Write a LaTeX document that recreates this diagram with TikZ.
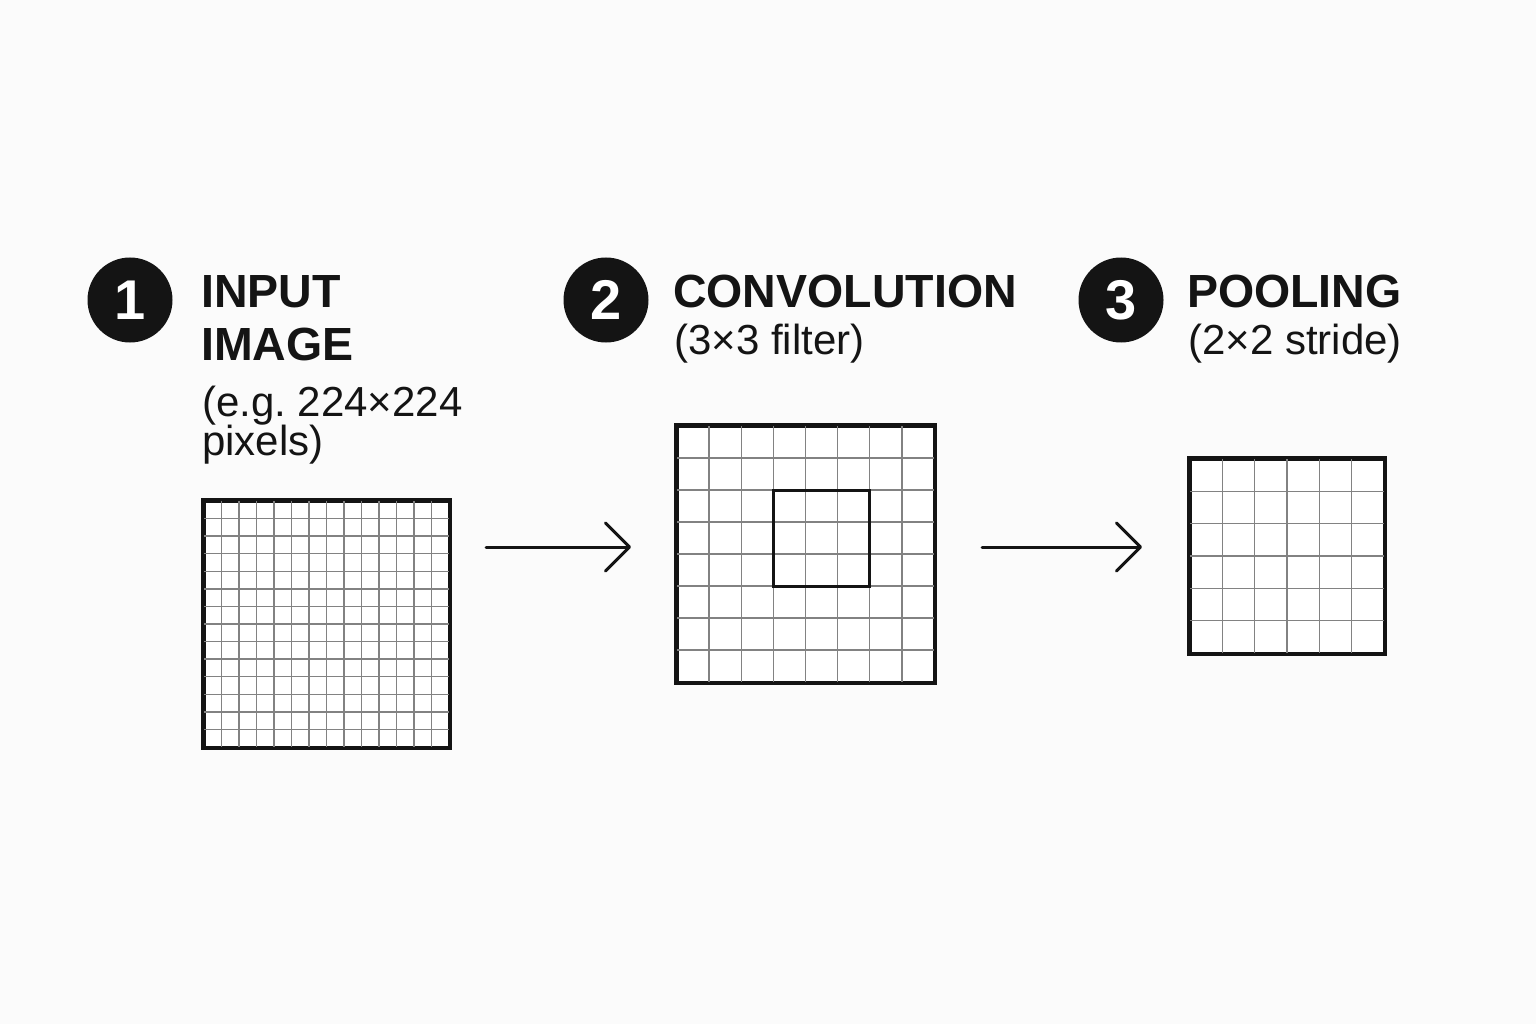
\documentclass[tikz,border=0pt]{standalone}
\usepackage{fontspec}
\setmainfont{Liberation Sans}
\usetikzlibrary{arrows.meta}
\definecolor{bgc}{RGB}{251,251,251}
\definecolor{gridc}{RGB}{130,130,130}
\definecolor{inkc}{RGB}{20,20,20}
\frenchspacing
\tikzset{
  badge/.style={circle, fill=inkc, minimum size=85pt, inner sep=0pt, text=white,
    font=\fontsize{56}{56}\selectfont\bfseries},
  ttl/.style={anchor=base west, inner sep=0pt, text=inkc, font=\fontsize{46.5}{50}\selectfont\bfseries},
  sub/.style={anchor=base west, inner sep=0pt, text=inkc, font=\fontsize{42}{44}\selectfont},
  box/.style={draw=inkc, line width=3pt, inner sep=0pt, fill=white},
  gl/.style={draw=gridc, line width=1.4pt},
  arr/.style={draw=inkc, line width=3pt, line cap=round, -{Straight Barb[length=24pt,width=48pt,line width=3pt,round]}},
}
\begin{document}
\begin{tikzpicture}[x=1pt,y=-1pt]
\fill[bgc] (0,0) rectangle (1536,1024);
\useasboundingbox (0,0) rectangle (1536,1024);

% badges
\node[badge] (b1) at (130,300) {1};
\node[badge] (b2) at (606,300) {2};
\node[badge] (b3) at (1121,300) {3};

% titles
\node[ttl] (t1a) at (201,307) {INPUT};
\node[ttl] (t1b) at (201,360) {IMAGE};
\node[sub] (t1c) at (202,416) {(e.g. 224×224};
\node[sub] (t1d) at (202,455) {pixels)};

\node[ttl] (t2a) at (673,307) {CONVOLUTION};
\node[sub] (t2b) at (674,354) {(3×3 filter)};

\node[ttl] (t3a) at (1187,307) {POOLING};
\node[sub] (t3b) at (1188,354) {(2×2 stride)};

% input grid 14x14
\node[box, minimum width=245pt, minimum height=246pt] (g1) at (326.5,624) {};
\foreach \i in {1,...,13}{
  \draw[gl] ({204+\i*245/14},501) -- ({204+\i*245/14},747);
  \draw[gl] (204,{501+\i*246/14}) -- (449,{501+\i*246/14});
}
\draw[draw=inkc, line width=3pt] (g1.north west) rectangle (g1.south east);

% convolution grid 8x8
\node[box, minimum width=257pt, minimum height=256pt] (g2) at (805.5,554) {};
\foreach \i in {1,...,7}{
  \draw[gl] ({677+\i*257/8},426) -- ({677+\i*257/8},682);
  \draw[gl] (677,{426+\i*256/8}) -- (934,{426+\i*256/8});
}
\draw[draw=inkc, line width=3pt] (g2.north west) rectangle (g2.south east);
\node[draw=inkc, line width=3pt, inner sep=0pt, minimum width=96.4pt, minimum height=96pt] (f2) at ({677+4.5*257/8},{426+3.5*256/8}) {};

% pooling grid 6x6
\node[box, minimum width=194pt, minimum height=194pt] (g3) at (1287,556) {};
\foreach \i in {1,...,5}{
  \draw[gl] ({1190+\i*194/6},459) -- ({1190+\i*194/6},653);
  \draw[gl] (1190,{459+\i*194/6}) -- (1384,{459+\i*194/6});
}
\draw[draw=inkc, line width=3pt] (g3.north west) rectangle (g3.south east);

% arrows
\coordinate (a1s) at (486,547);
\coordinate (a1e) at (631,547);
\coordinate (a2s) at (982,547);
\coordinate (a2e) at (1142,547);
\draw[arr] (a1s) -- (a1e);
\draw[arr] (a2s) -- (a2e);
\end{tikzpicture}
\end{document}
